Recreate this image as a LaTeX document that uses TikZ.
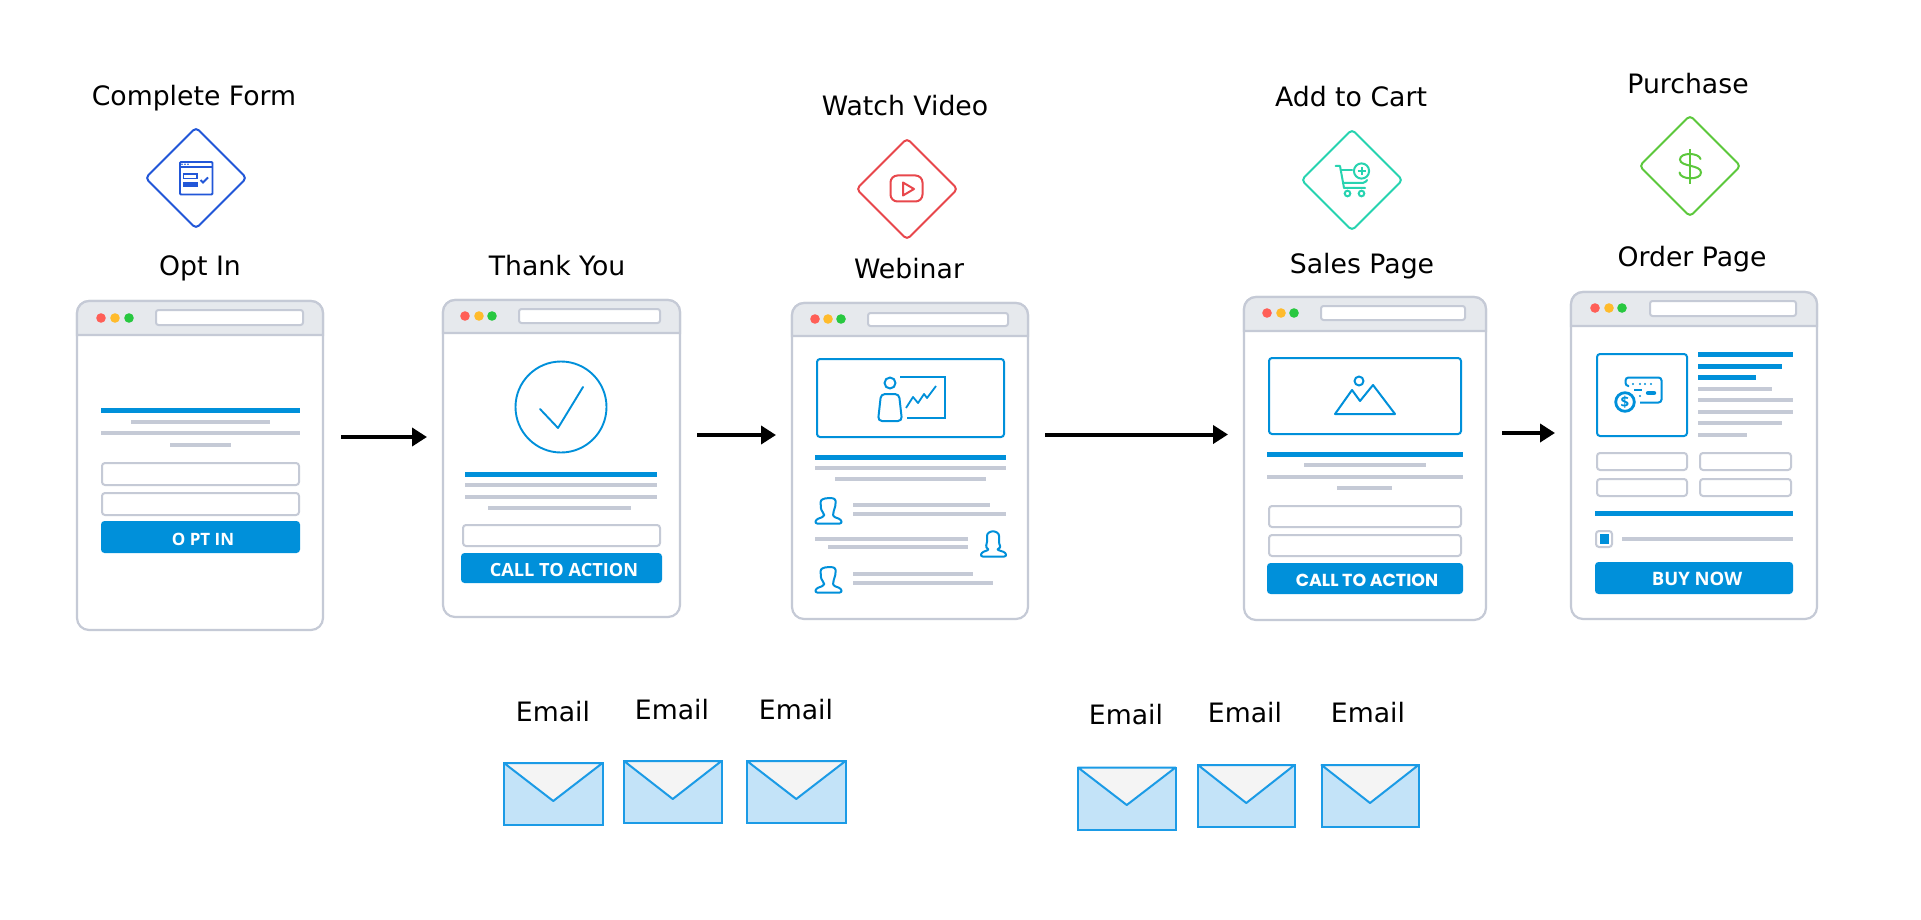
\documentclass[tikz,border=0pt]{standalone}
\usepackage{fontspec}
\usetikzlibrary{arrows.meta}
\setmainfont{DejaVu Sans}
\newfontfamily\popfont{Poppins}
\newfontfamily\opfont{Open Sans}
\definecolor{wingray}{HTML}{C5CAD6}
\definecolor{winhead}{HTML}{E6E9ED}
\definecolor{pblue}{HTML}{0090DA}
\definecolor{dred}{HTML}{FF5F57}
\definecolor{dyel}{HTML}{FFBB2C}
\definecolor{dgrn}{HTML}{28C840}
\definecolor{envfill}{HTML}{C3E3F8}
\definecolor{envflap}{HTML}{F4F4F4}
\definecolor{envline}{HTML}{1B9BE6}
\definecolor{dblue}{HTML}{2257D8}
\definecolor{dredd}{HTML}{E8474C}
\definecolor{dteal}{HTML}{27D3B0}
\definecolor{dgreen}{HTML}{5CC83C}
\tikzset{
  x=1pt,y=-1pt,
  lab/.style={anchor=base,inner sep=0pt,font=\fontsize{26.7}{30}\selectfont,text=black},
  winbox/.style={draw=wingray,line width=2.2pt,fill=white,rounded corners=12pt,inner sep=0pt},
  urlbar/.style={draw=wingray,line width=2pt,fill=white,rounded corners=2.5pt},
  inputbox/.style={draw=wingray,line width=2pt,fill=white,rounded corners=3pt},
  bluebar/.style={draw=pblue,line width=5pt},
  graybar/.style={draw=wingray,line width=4.8pt},
  btnbox/.style={fill=pblue,rounded corners=3.5pt},
  btntext/.style={inner sep=0pt,text=white},
  imgbox/.style={draw=pblue,line width=2pt,rounded corners=3pt},
  icon/.style={draw=pblue,line width=2pt,line join=round},
  arrowline/.style={draw=black,line width=4pt,-{Triangle[length=15pt,width=18pt]}},
  diam/.style={line width=2pt,rounded corners=4pt},
  envbody/.style={draw=envline,fill=envfill,line width=2pt},
  envtop/.style={draw=envline,fill=envflap,line width=2pt,line join=round},
}
\newcommand{\browserwin}[6]{%
  \node[winbox,minimum width={(#3-#2)*1pt},minimum height={(#6-#4)*1pt}] (#1) at ({(#2+#3)/2},{(#4+#6)/2}) {};
  \draw[draw=wingray,line width=2.2pt,fill=winhead] (#2,#5) [rounded corners=12pt] -- (#2,#4) -- (#3,#4) [sharp corners] -- (#3,#5) -- cycle;
}
\newcommand{\lights}[4]{%
  \fill[dred] (#1,#4) circle (4.8);
  \fill[dyel] (#2,#4) circle (4.8);
  \fill[dgrn] (#3,#4) circle (4.8);
}
\newcommand{\diamondat}[3]{%
  \draw[diam,draw=#3] (#1,#2-50.5) -- (#1+50.5,#2) -- (#1,#2+50.5) -- (#1-50.5,#2) -- cycle;
}
\newcommand{\envelope}[5]{% x1 x2 y1 y2 apexy
  \draw[envbody] (#1,#3) rectangle (#2,#4);
  \draw[envtop] (#1,#3) -- (#2,#3) -- ({(#1+#2)/2},#5) -- cycle;
}
\newcommand{\man}[2]{%
  \begin{scope}[shift={(#1,#2)}]
  \draw[icon,rounded corners=2.2pt] (1,26.5) -- (2,22.5) -- (10,19.5) -- (10,16.5) -- (7,13) -- (6.5,3) -- (13,.8) -- (21,1.5) -- (22,6) -- (20.5,12) -- (19,16) -- (19,19.5) -- (27,22.5) -- (28,26.5) -- cycle;
  \end{scope}
}
\newcommand{\woman}[2]{%
  \begin{scope}[shift={(#1,#2)}]
  \draw[icon,rounded corners=2.2pt] (1,26.5) -- (2,22.5) -- (10,19.5) -- (6,17.5) -- (7.5,14) -- (7.5,3.5) -- (13.5,.7) -- (19.5,3.5) -- (19.5,14) -- (21.5,17.5) -- (17,19.5) -- (26,22.5) -- (27,26.5) -- cycle;
  \end{scope}
}
\begin{document}
\begin{tikzpicture}
\path[fill=white,use as bounding box] (0,0) rectangle (1921,920);

% --- top labels
\node[lab] (cf) at (194,105.5) {Complete Form};
\node[lab] (wv) at (905,116) {Watch Video};
\node[lab] (ac) at (1351,107) {Add to Cart};
\node[lab] (pu) at (1688,93.5) {Purchase};
\node[lab] (oi) at (200,275) {Opt In};
\node[lab] (ty) at (557,275) {Thank You};
\node[lab] (we) at (909,278) {Webinar};
\node[lab] (sp) at (1362,273.5) {Sales Page};
\node[lab] (op) at (1692,266) {Order Page};

% --- diamonds
\diamondat{196}{178}{dblue}
\diamondat{907}{189}{dredd}
\diamondat{1352}{180}{dteal}
\diamondat{1690}{166}{dgreen}

% form icon
\draw[draw=dblue,line width=1.8pt,rounded corners=1pt] (180,162) rectangle (212.5,194.5);
\draw[draw=dblue,line width=1.2pt] (180,167) -- (212.5,167);
\foreach \xx in {182,185,188} \fill[dblue] (\xx,164.3) circle (.9);
\draw[draw=dblue,line width=1.6pt] (183.5,174) rectangle (197,178.5);
\fill[dblue] (183,182) rectangle (198,187);
\draw[draw=dblue,line width=1.8pt] (200.5,180) -- (203,182.5) -- (208,177.5);

% video icon
\draw[draw=dredd,line width=2pt,rounded corners=7pt] (890.5,175.5) rectangle (922.5,201.5);
\draw[draw=dredd,line width=2pt,line join=round] (903,182.5) -- (914,189) -- (903,195.5) -- cycle;

% cart icon
\draw[draw=dteal,line width=2pt,line cap=round,line join=round] (1335.5,166) -- (1340,166) -- (1344,188) -- (1365,188);
\draw[draw=dteal,line width=2pt,line cap=round] (1340.5,170) -- (1352,170);
\draw[draw=dteal,line width=2pt,line cap=round,rounded corners=2pt] (1343,183) -- (1365,183) -- (1367,180);
\draw[draw=dteal,line width=2pt] (1347.5,193.5) circle (2.8) (1361.5,193.5) circle (2.8);
\draw[draw=dteal,line width=2pt] (1361.5,171) circle (7.6);
\draw[draw=dteal,line width=2pt] (1357.5,171) -- (1365.5,171) (1361.5,167) -- (1361.5,175);

% dollar icon
\draw[draw=dgreen,line width=2pt] (1690,149) -- (1690,184);
\draw[draw=dgreen,line width=2pt,line cap=round] (1700.5,159) .. controls (1699,152.5) and (1680,152) .. (1680,159.5) .. controls (1680,167) and (1701,164.5) .. (1701,172.5) .. controls (1701,180.5) and (1680,180) .. (1679.5,172.5);

% --- window 1
\browserwin{w1}{77}{323}{301}{335}{630}
\lights{101}{115}{129}{318}
\draw[urlbar] (156,310) rectangle (303,325);
\draw[bluebar] (101,410) -- (300,410);
\draw[graybar] (131,422) -- (270,422);
\draw[graybar] (101,433) -- (300,433);
\draw[graybar] (170,445) -- (231,445);
\draw[inputbox] (102,463) rectangle (299,485);
\draw[inputbox] (102,493) rectangle (299,515);
\fill[btnbox] (101,521) rectangle (300,553);
\node[btntext,font=\opfont\bfseries\fontsize{17}{20}\selectfont] (t1) at (203,539) {O PT IN};

% --- window 2
\browserwin{w2}{443}{680}{300}{333}{617}
\lights{465}{479}{492}{316}
\draw[urlbar] (519,309) rectangle (660,323);
\draw[draw=pblue,line width=1.9pt] (561,407) circle (45.5);
\draw[draw=pblue,line width=1.9pt,line cap=round,line join=round] (540,409) -- (558,428) -- (583,387);
\draw[bluebar] (465,474) -- (657,474);
\draw[graybar] (465,485) -- (657,485);
\draw[graybar] (465,497) -- (657,497);
\draw[graybar] (488,508) -- (631,508);
\draw[inputbox] (463,525) rectangle (660,546);
\fill[btnbox] (461,553) rectangle (662,583);
\node[btntext,font=\opfont\bfseries\fontsize{18.2}{20}\selectfont] (t2) at (564,569.5) {CALL TO ACTION};

% --- window 3
\browserwin{w3}{792}{1028}{303}{336}{619}
\lights{815}{828}{841}{319}
\draw[urlbar] (868,313) rectangle (1008,326);
\draw[imgbox] (817,359) rectangle (1004,437);
\draw[icon] (890,383) circle (5.5);
\draw[icon,rounded corners=4pt] (881,394) -- (899,394) -- (902,421) -- (878,421) -- cycle;
\draw[draw=pblue,line width=1.8pt] (900,377) -- (945,377) -- (945,418) -- (907,418);
\draw[draw=pblue,line width=1.8pt,line join=round] (906,408) -- (913,397) -- (918,403) -- (924,394) -- (927,398) -- (936,386);
\draw[bluebar] (815,457) -- (1006,457);
\draw[graybar] (815,468) -- (1006,468);
\draw[graybar] (835,479) -- (986,479);
\man{814}{497}
\draw[graybar] (853,505) -- (990,505);
\draw[graybar] (853,514) -- (1006,514);
\draw[graybar] (815,539) -- (968,539);
\draw[graybar] (828,547) -- (968,547);
\woman{979.5}{530}
\man{814}{566}
\draw[graybar] (853,574) -- (973,574);
\draw[graybar] (853,583) -- (993,583);

% --- window 4
\browserwin{w4}{1244}{1486}{297}{331}{620}
\lights{1267}{1281}{1294}{313}
\draw[urlbar] (1321,306) rectangle (1465,320);
\draw[imgbox] (1269,358) rectangle (1461,434);
\draw[icon] (1359,381) circle (4.5);
\draw[icon] (1335,414) -- (1352,390) -- (1360,401) -- (1373,385) -- (1395,414) -- cycle;
\draw[bluebar] (1267,454) -- (1463,454);
\draw[graybar] (1304,465) -- (1426,465);
\draw[graybar] (1267,477) -- (1463,477);
\draw[graybar] (1337,488) -- (1392,488);
\draw[inputbox] (1269,506) rectangle (1461,527);
\draw[inputbox] (1269,535) rectangle (1461,556);
\fill[btnbox] (1267,563) rectangle (1463,594);
\node[btntext,font=\popfont\bfseries\fontsize{17.4}{20}\selectfont] (t4) at (1367,580) {CALL TO ACTION};

% --- window 5
\browserwin{w5}{1571}{1817}{292}{326}{619}
\lights{1595}{1609}{1622}{308}
\draw[urlbar] (1650,301) rectangle (1796,316);
\draw[imgbox] (1597,354) rectangle (1687,436);
% card
\draw[draw=pblue,line width=2pt,rounded corners=3pt] (1629,386) -- (1625.5,386) -- (1625.5,377.5) -- (1661.5,377.5) -- (1661.5,402.5) -- (1640,402.5);
\foreach \xx in {1633,1640,1645,1651} \fill[pblue] (\xx,384) circle (1.2);
\draw[draw=pblue,line width=1.9pt] (1634,390) -- (1642,390);
\draw[draw=pblue,line width=4.4pt,line cap=round] (1648,393) -- (1654,393);
\fill[pblue] (1640,396) circle (1.2);
\fill[white] (1625,402) circle (12);
\draw[draw=pblue,line width=2.8pt] (1625,402) circle (9.3);
\node[inner sep=0pt,text=pblue,font=\opfont\bfseries\fontsize{15}{16}\selectfont] (coin) at (1625,402) {\$};
\draw[bluebar] (1698,354) -- (1793,354);
\draw[bluebar] (1698,366) -- (1782,366);
\draw[bluebar] (1698,377) -- (1756,377);
\draw[graybar] (1698,389) -- (1772,389);
\draw[graybar] (1698,400) -- (1793,400);
\draw[graybar] (1698,412) -- (1793,412);
\draw[graybar] (1698,423) -- (1782,423);
\draw[graybar] (1698,435) -- (1747,435);
\draw[inputbox] (1597,453) rectangle (1687,470);
\draw[inputbox] (1597,479) rectangle (1687,496);
\draw[inputbox] (1700,453) rectangle (1791,470);
\draw[inputbox] (1700,479) rectangle (1791,496);
\draw[bluebar] (1595,513) -- (1793,513);
\draw[inputbox] (1596,531) rectangle (1612,547);
\fill[pblue] (1599.5,534) rectangle (1609,544);
\draw[graybar] (1622,539) -- (1793,539);
\fill[btnbox] (1595,562) rectangle (1793,594);
\node[btntext,font=\opfont\bfseries\fontsize{18.5}{20}\selectfont] (t5) at (1697,579) {BUY NOW};

% --- arrows
\coordinate (a1s) at (341,437); \coordinate (a1e) at (427,437);
\coordinate (a2s) at (697,435); \coordinate (a2e) at (776,435);
\coordinate (a3s) at (1045,434.5); \coordinate (a3e) at (1228,434.5);
\coordinate (a4s) at (1502,433); \coordinate (a4e) at (1555,433);
\draw[arrowline] (a1s) -- (a1e);
\draw[arrowline] (a2s) -- (a2e);
\draw[arrowline] (a3s) -- (a3e);
\draw[arrowline] (a4s) -- (a4e);

% --- emails
\node[lab] (e1) at (553,721) {Email};
\node[lab] (e2) at (672,719) {Email};
\node[lab] (e3) at (796,719) {Email};
\node[lab] (e4) at (1126,724) {Email};
\node[lab] (e5) at (1245,722) {Email};
\node[lab] (e6) at (1368,722) {Email};
\envelope{504}{602.5}{763}{825}{801}
\envelope{624}{721.5}{761}{823}{799}
\envelope{747}{845.5}{761}{823}{799}
\envelope{1078}{1175.5}{767.5}{829.5}{805}
\envelope{1198}{1294.5}{765}{827}{803}
\envelope{1321.5}{1418.5}{765}{827}{803}
\end{tikzpicture}
\end{document}
